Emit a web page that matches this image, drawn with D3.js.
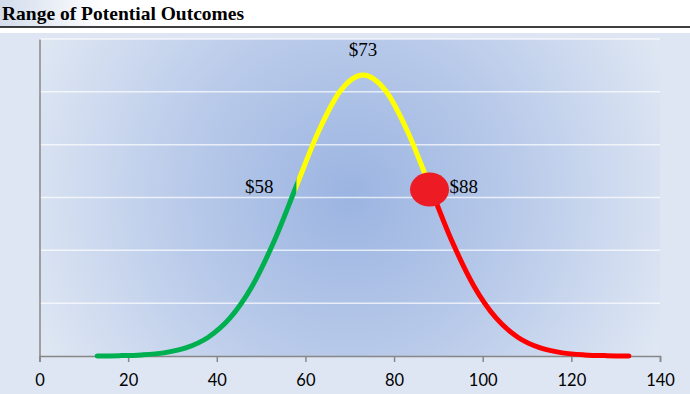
<!DOCTYPE html>
<html>
<head>
<meta charset="utf-8">
<script src="https://cdn.jsdelivr.net/npm/d3@7"></script>
<style>
  html, body { margin: 0; padding: 0; background: #fff; }
  svg { display: block; }
</style>
</head>
<body>
<svg></svg>
<script>
// outcome values ($) and curve height
const outcomes = [13, 18, 23, 28, 33, 38, 43, 48, 53, 58, 63, 68, 73,
                  78, 83, 88, 93, 98, 103, 108, 113, 118, 123, 128, 133];
const likelihood = [0.0009, 0.0032, 0.0103, 0.0295, 0.076, 0.175, 0.36, 0.663, 1.093, 1.613, 2.13, 2.516, 2.66,
                    2.516, 2.13, 1.613, 1.093, 0.663, 0.36, 0.175, 0.076, 0.0295, 0.0103, 0.0032, 0.0009];
const xTicks = [0, 20, 40, 60, 80, 100, 120, 140];
const gridValues = [0.5, 1, 1.5, 2, 2.5, 3];
const segments = [[13, 58], [58, 88], [88, 133]];
const labelValues = [58, 73, 88];
const labelTexts = ['$58', '$73', '$88'];
const markerAt = 88;

const W = 690, H = 394;
const segColors = ['#00b050', '#ffff00', '#ff0000'];
const plot = {left: 39.5, right: 660, top: 39, bottom: 356};

const svg = d3.select('svg')
    .attr('width', W)
    .attr('height', H);

const defs = svg.append('defs');
const rg = defs.append('radialGradient')
    .attr('id', 'plotBg')
    .attr('gradientUnits', 'userSpaceOnUse')
    .attr('cx', 350).attr('cy', 195).attr('r', 345);
rg.append('stop').attr('offset', 0).attr('stop-color', '#9bb4e1');
rg.append('stop').attr('offset', 0.5).attr('stop-color', '#bacbea');
rg.append('stop').attr('offset', 1).attr('stop-color', '#dfe7f3');

const tg = defs.append('linearGradient')
    .attr('id', 'titleBg')
    .attr('x1', 0).attr('x2', 1).attr('y1', 0).attr('y2', 0);
tg.append('stop').attr('offset', 0).attr('stop-color', '#d3dcec');
tg.append('stop').attr('offset', 0.15).attr('stop-color', '#ffffff');

// title strip
svg.append('rect')
    .attr('x', 0).attr('y', 0).attr('width', W).attr('height', 27)
    .attr('fill', 'url(#titleBg)');
svg.append('text')
    .text('Range of Potential Outcomes')
    .attr('x', 2).attr('y', 19.5)
    .style('font-family', '"Liberation Serif", "Times New Roman", serif')
    .style('font-weight', 'bold')
    .style('font-size', '19.5px')
    .style('fill', '#000');
svg.append('line')
    .attr('x1', 0).attr('x2', W).attr('y1', 27).attr('y2', 27)
    .attr('stroke', '#000').attr('stroke-width', 1.5);

// chart + plot area
svg.append('rect')
    .attr('x', 0).attr('y', 33).attr('width', W).attr('height', H - 33)
    .attr('fill', '#dee6f3');
svg.append('rect')
    .attr('x', plot.left).attr('y', plot.top)
    .attr('width', plot.right - plot.left).attr('height', plot.bottom - plot.top)
    .attr('fill', 'url(#plotBg)');

const x = d3.scaleLinear().domain([0, 140]).range([plot.left, plot.right]);
const y = d3.scaleLinear().domain([0, 3]).range([plot.bottom, plot.top]);

svg.append('g')
    .selectAll('line')
    .data(gridValues)
    .join('line')
    .attr('x1', plot.left).attr('x2', plot.right)
    .attr('y1', d => y(d)).attr('y2', d => y(d))
    .attr('stroke', '#ffffff')
    .attr('stroke-opacity', 0.7)
    .attr('stroke-width', 1.5);

// axes
const xAxis = svg.append('g')
    .attr('transform', `translate(0,${plot.bottom})`)
    .call(d3.axisBottom(x).tickValues(xTicks).tickSize(6).tickPadding(12));
xAxis.selectAll('path, line').attr('stroke', '#878787').attr('stroke-width', 1.5);
xAxis.selectAll('text')
    .style('font-family', 'Lato, "Open Sans", sans-serif')
    .style('font-size', '16.5px')
    .style('fill', '#000');

const yAxis = svg.append('g')
    .attr('transform', `translate(${plot.left},0)`)
    .call(d3.axisLeft(y).tickValues([]).tickSizeOuter(0));
yAxis.select('path').attr('stroke', '#878787').attr('stroke-width', 1.5);

// curve, coloured by segment
const pts = outcomes.map((o, i) => [o, likelihood[i]]);
const line = d3.line()
    .x(d => x(d[0]))
    .y(d => y(d[1]))
    .curve(d3.curveMonotoneX);

segments.forEach((s, i) => {
    const x0 = i === 0 ? x(s[0]) - 10 : x(s[0]);
    const x1 = i === segments.length - 1 ? x(s[1]) + 10 : x(s[1]);
    defs.append('clipPath').attr('id', 'seg' + i)
        .append('rect')
        .attr('x', x0).attr('y', 0)
        .attr('width', x1 - x0).attr('height', H);
    svg.append('path')
        .datum(pts)
        .attr('d', line)
        .attr('clip-path', `url(#seg${i})`)
        .attr('fill', 'none')
        .attr('stroke', segColors[i])
        .attr('stroke-width', 5)
        .attr('stroke-linecap', 'round');
});

const valueAt = v => likelihood[outcomes.indexOf(v)];

svg.append('ellipse')
    .attr('cx', x(markerAt))
    .attr('cy', y(valueAt(markerAt)) + 4)
    .attr('rx', 19.5).attr('ry', 17)
    .attr('fill', '#ed1c24');

// data labels
const labelPos = [
    {dx: -23, dy: 7, anchor: 'end'},
    {dx: 0, dy: -18.5, anchor: 'middle'},
    {dx: 20, dy: 7, anchor: 'start'}
];
svg.append('g')
    .selectAll('text')
    .data(labelValues)
    .join('text')
    .text((d, i) => labelTexts[i])
    .attr('x', (d, i) => x(d) + labelPos[i].dx)
    .attr('y', (d, i) => y(valueAt(d)) + labelPos[i].dy)
    .attr('text-anchor', (d, i) => labelPos[i].anchor)
    .style('font-family', '"Liberation Serif", "Times New Roman", serif')
    .style('font-size', '19px')
    .style('fill', '#000');
</script>
</body>
</html>
